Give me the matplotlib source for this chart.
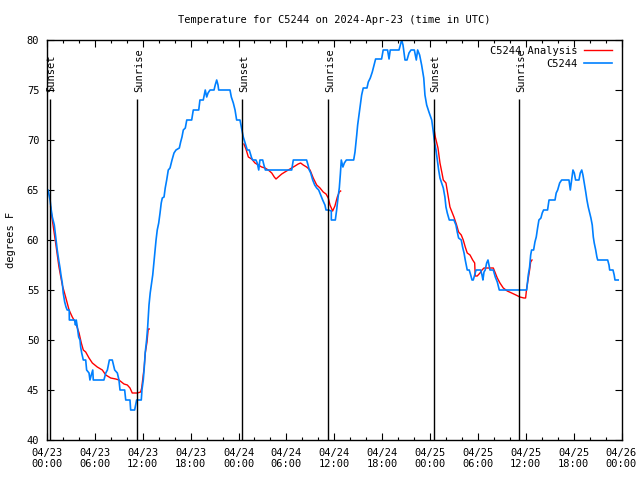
import numpy as np
import matplotlib
matplotlib.use("Agg")
import matplotlib.pyplot as plt
import matplotlib.dates as mdates

plt.rcParams['font.family'] = ['DejaVu Sans Mono']
plt.rcParams['font.size'] = 7.5

t0 = np.datetime64('2024-04-23T00:00')

# observed temperature, hours since 04/23 00:00 UTC
obs_h = [0.0, 0.13, 0.38, 0.54, 0.66, 0.91, 1.04, 1.17, 1.29, 1.47, 1.63, 1.75, 1.92, 2.04, 2.22,
         2.38, 2.54, 2.79, 2.80, 3.47, 3.57, 3.66, 3.80, 3.97, 4.14, 4.22, 4.35, 4.55, 4.85, 4.97,
         5.26, 5.39, 5.55, 5.73, 5.80, 7.14, 7.36, 7.56, 7.81, 8.18, 8.48, 8.81, 9.02, 9.15, 9.74,
         9.86, 10.40, 10.49, 10.99, 11.24, 11.82, 11.90, 12.07, 12.16, 12.32, 12.49, 12.62, 12.78,
         12.94, 13.12, 13.25, 13.37, 13.50, 13.66, 13.82, 14.00, 14.16, 14.32, 14.45, 14.66, 14.82,
         15.00, 15.20, 15.41, 15.66, 15.91, 16.17, 16.58, 16.75, 16.92, 17.08, 17.33, 17.51, 18.13,
         18.33, 19.01, 19.17, 19.59, 19.84, 20.01, 20.18, 20.43, 20.93, 21.09, 21.27, 21.43, 21.52,
         22.93, 23.10, 23.35, 23.56, 23.77, 24.19, 24.35, 24.60, 24.90, 25.10, 25.35, 25.65, 25.78,
         26.19, 26.35, 26.53, 26.69, 27.03, 27.19, 27.36, 30.66, 30.86, 32.54, 32.71, 32.87, 33.05,
         33.30, 33.55, 33.80, 34.05, 34.30, 34.55, 34.84, 34.96, 35.30, 35.63, 35.64, 36.13, 36.30,
         36.47, 36.63, 36.76, 36.88, 37.09, 37.26, 37.51, 38.43, 38.60, 38.72, 38.81, 38.93, 39.10,
         39.26, 39.44, 39.64, 40.10, 40.26, 40.51, 40.76, 41.02, 41.19, 41.94, 42.14, 42.69, 42.86,
         43.02, 44.11, 44.45, 44.61, 44.86, 45.11, 45.36, 45.61, 46.03, 46.28, 46.45, 46.70, 46.95,
         47.21, 47.37, 47.58, 47.87, 48.21, 48.41, 48.58, 48.75, 48.91, 49.09, 49.25, 49.41, 49.66,
         49.87, 50.00, 50.16, 50.41, 51.00, 51.25, 51.42, 51.59, 51.92, 52.09, 52.26, 52.42, 52.67,
         52.92, 53.10, 53.26, 53.42, 53.60, 53.76, 54.35, 54.51, 54.64, 54.76, 54.92, 55.10, 55.26,
         55.43, 55.51, 55.93, 56.18, 56.43, 56.68, 60.11, 60.31, 60.49, 60.61, 60.74, 60.99, 61.15,
         61.32, 61.49, 61.65, 61.90, 62.07, 62.24, 62.74, 62.91, 63.66, 63.82, 64.00, 64.25, 64.50,
         65.41, 65.58, 65.75, 65.91, 66.08, 66.25, 66.67, 66.83, 67.01, 67.17, 67.33, 67.51, 67.67,
         67.83, 68.01, 68.17, 68.33, 68.46, 68.58, 68.76, 68.92, 69.01, 70.26, 70.43, 70.51, 70.93,
         71.09, 71.18, 71.59]
obs_t = [65.0, 65.0, 64.0, 63.0, 62.3, 61.5, 60.7, 59.8, 59.0, 58.0, 57.2, 56.5, 55.7, 54.7, 53.8,
         53.3, 53.0, 53.0, 52.0, 52.0, 51.5, 52.0, 51.3, 50.3, 50.0, 49.3, 48.7, 48.0, 48.0, 47.0,
         46.7, 46.0, 46.5, 47.0, 46.0, 46.0, 46.7, 47.0, 48.0, 48.0, 47.0, 46.7, 46.0, 45.0, 45.0,
         44.0, 44.0, 43.0, 43.0, 44.0, 44.0, 45.0, 46.0, 47.0, 48.8, 50.0, 51.3, 53.5,
         54.7, 55.7, 56.5, 57.5, 58.7, 60.0, 61.0, 61.7, 62.7, 63.7, 64.2, 64.3, 65.2,
         66.0, 67.0, 67.2, 68.0, 68.7, 69.0, 69.2, 69.8, 70.3, 71.0, 71.2, 72.0, 72.0,
         73.0, 73.0, 74.0, 74.0, 75.0, 74.3, 74.7, 75.0, 75.0, 75.5, 76.0, 75.5, 75.0,
         75.0, 74.3, 73.7, 73.0, 72.0, 72.0, 71.3, 70.3, 69.5, 69.0, 69.0, 68.2, 68.0,
         68.0, 67.7, 67.0, 68.0, 68.0, 67.5, 67.0, 67.0, 68.0, 68.0, 67.5, 67.0, 66.7,
         66.0, 65.5, 65.2, 65.0, 64.5, 64.0, 63.5, 63.0, 63.0, 62.9, 62.0, 62.0, 63.0,
         64.2, 65.2, 66.6, 68.0, 67.3, 67.7, 68.0, 68.0, 68.8, 69.7, 70.5, 71.5, 72.5,
         73.5, 74.5, 75.2, 75.2, 75.8, 76.2, 76.8, 77.6, 78.1, 78.1, 79.0, 79.0, 78.1,
         79.0, 79.0, 80.0, 79.5, 78.0, 78.0, 78.7, 79.0, 79.0, 78.0, 79.0, 78.5, 77.5,
         76.2, 74.5, 73.5, 72.8, 72.0, 70.8, 69.7, 69.0, 68.0, 67.0, 66.2, 65.8, 65.2,
         64.3, 63.3, 62.7, 62.0, 62.0, 61.5, 60.8, 60.2, 60.0, 59.3, 58.7, 58.0, 57.0,
         57.0, 56.5, 56.0, 56.0, 56.5, 57.0, 57.0, 56.5, 56.0, 56.8, 57.0, 57.7, 58.0,
         57.3, 57.0, 57.0, 56.3, 55.8, 55.0, 55.0, 56.5, 57.3, 58.5, 59.0, 59.0, 59.8,
         60.3, 61.2, 62.0, 62.2, 62.7, 63.0, 63.0, 64.0, 64.0, 64.7, 65.0, 65.7, 66.0,
         66.0, 65.0, 66.0, 67.0, 66.7, 66.0, 66.0, 66.7, 67.0, 66.5, 65.7, 64.8, 64.0,
         63.3, 62.7, 62.2, 61.5, 60.3, 59.7, 59.0, 58.3, 58.0, 58.0, 57.5, 57.0, 57.0,
         56.5, 56.0, 56.0]

# analysis, three night segments
ana1_h = [0.45, 0.66, 1.09, 1.50, 1.92, 2.34, 2.76, 3.17, 3.60, 4.01, 4.30, 4.55, 4.85, 5.26, 5.68,
          6.30, 6.93, 7.36, 7.98, 8.61, 9.02, 9.65, 10.06, 10.40, 10.69, 11.32, 11.74, 11.87,
          12.19, 12.32, 12.53, 12.69, 12.82]
ana1_t = [63.3, 62.0, 59.7, 57.3, 55.5, 54.3, 53.0, 52.3, 51.7, 50.7, 49.7, 49.0, 48.8, 48.2, 47.7,
          47.3, 47.0, 46.5, 46.2, 46.1, 46.0, 45.6, 45.5, 45.2, 44.7, 44.7, 44.8, 45.2,
          47.3, 48.7, 49.8, 51.1, 51.1]
ana2_h = [24.69, 24.94, 25.23, 25.65, 26.07, 26.48, 26.90, 27.32, 27.73, 28.16, 28.48, 28.70, 28.99,
          29.41, 29.82, 30.24, 30.66, 31.08, 31.49, 31.79, 32.12, 32.54, 32.96, 33.37, 33.80,
          34.21, 34.62, 34.96, 35.25, 35.46, 35.80, 36.09, 36.38, 36.63, 36.80]
ana2_t = [69.6, 69.1, 68.3, 68.1, 67.7, 67.5, 67.3, 67.2, 67.0, 66.7, 66.3, 66.1, 66.3,
          66.6, 66.8, 67.0, 67.2, 67.4, 67.6, 67.7, 67.5, 67.3, 67.0, 66.2, 65.5,
          65.2, 64.8, 64.6, 64.2, 63.5, 62.9, 63.4, 64.3, 64.8, 64.9]
ana3_h = [48.56, 48.66, 49.00, 49.25, 49.50, 49.66, 50.00, 50.25, 50.50, 50.75, 51.00, 51.34, 51.59,
          51.92, 52.17, 52.42, 52.67, 53.01, 53.35, 53.60, 53.67, 53.92, 54.26, 54.51, 54.76,
          55.93, 56.18, 56.43, 56.77, 57.18, 57.68, 58.23, 58.77, 59.27, 59.77, 59.99, 60.11,
          60.28, 60.49, 60.61, 60.78]
ana3_t = [70.8, 70.3, 69.2, 67.7, 66.7, 66.0, 65.7, 64.5, 63.3, 62.8, 62.3, 61.5, 60.8,
          60.5, 60.0, 59.3, 58.7, 58.5, 58.0, 57.7, 56.4, 56.4, 56.7, 57.0, 57.2,
          57.2, 56.7, 56.2, 55.7, 55.2, 54.9, 54.7, 54.5, 54.3, 54.2, 54.2, 55.2,
          56.0, 57.0, 57.8, 58.0]

sunset_h = [0.38, 24.47, 48.5]
sunrise_h = [11.3, 35.25, 59.2]


def to_time(hours):
    return t0 + (np.array(hours) * 60).round().astype('timedelta64[m]')


fig = plt.figure(figsize=(6.4, 4.8), dpi=100)
ax = fig.add_axes([47 / 640, 40 / 480, 574.5 / 640, 400 / 480])

for i, (h, t) in enumerate([(ana1_h, ana1_t), (ana2_h, ana2_t), (ana3_h, ana3_t)]):
    ax.plot(to_time(h), t, color='#ff0000', lw=1.0, label='C5244 Analysis' if i == 0 else None)
ax.plot(to_time(obs_h), obs_t, color='#0080ff', lw=1.2, label='C5244')

for name, hrs in [('Sunset', sunset_h), ('Sunrise', sunrise_h)]:
    for tt in to_time(hrs):
        ax.vlines(tt, 40, 74.1, color='black', lw=1.0)
        ax.annotate(name, (tt, 74.8), xytext=(1.2, 0), textcoords='offset points',
                    rotation=90, ha='center', va='bottom', fontsize=7.5)

ax.set_xlim(t0, t0 + np.timedelta64(72, 'h'))
ax.set_ylim(40, 80)
ax.set_yticks(np.arange(40, 81, 5))
ax.xaxis.set_major_locator(mdates.HourLocator(byhour=range(0, 24, 6)))
ax.xaxis.set_minor_locator(mdates.HourLocator(byhour=range(0, 24, 2)))
ax.xaxis.set_major_formatter(mdates.DateFormatter('%m/%d\n%H:%M'))
ax.tick_params(which='both', direction='in', top=True, right=True, width=0.8)
ax.tick_params(which='major', length=5, pad=5.5, labelsize=7.5)
ax.tick_params(which='minor', length=2.5)
for s in ax.spines.values():
    s.set_linewidth(1.0)

ax.set_title('Temperature for C5244 on 2024-Apr-23 (time in UTC)', fontsize=7.5, pad=12)
ax.set_ylabel('degrees F', fontsize=7.5, labelpad=8)

ax.legend(loc='upper right', bbox_to_anchor=(1 - 9.5 / 574.5, 1 - 6 / 400), frameon=False,
          markerfirst=False, handlelength=2.7, handletextpad=0.6, labelspacing=0.25,
          borderaxespad=0, borderpad=0, fontsize=7.5)

fig.savefig('out.png', dpi=100)
